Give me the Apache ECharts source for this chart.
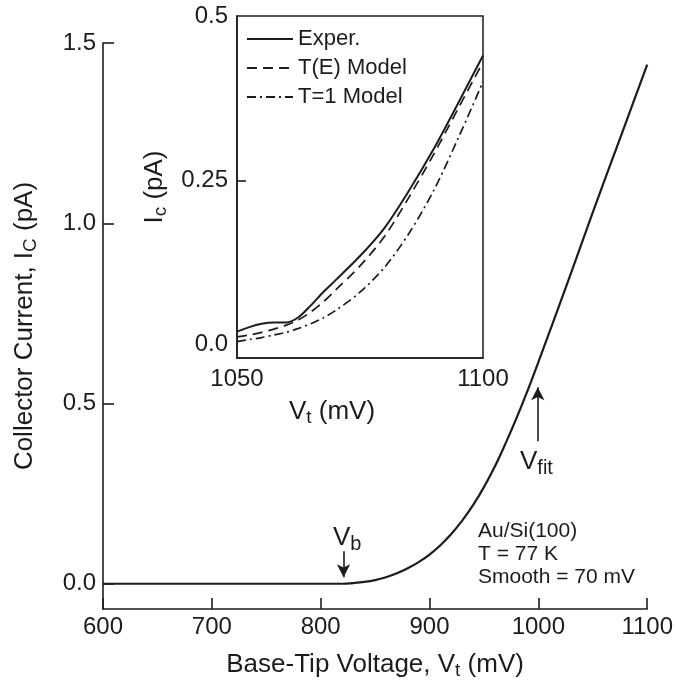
<!DOCTYPE html>
<html>
<head>
<meta charset="utf-8">
<script src="https://cdn.jsdelivr.net/npm/echarts@6/dist/echarts.min.js"></script>
<style>
html,body{margin:0;padding:0;background:#fff;}
#chart{width:676px;height:685px;}
</style>
</head>
<body>
<div id="chart"></div>
<script>
// ---- Data ----
var mainV = [600, 650, 700, 750, 800, 820, 830, 840, 850, 860, 870, 880, 890, 900, 910, 920, 930, 940, 950, 960, 970, 980, 990, 1000, 1025, 1050, 1075, 1100];
var mainI = [0, 0, 0, 0, 0, 0, 0.002, 0.005, 0.010, 0.018, 0.029, 0.043, 0.060, 0.081, 0.107, 0.138, 0.175, 0.218, 0.268, 0.325, 0.39, 0.46, 0.535, 0.615, 0.82, 1.03, 1.235, 1.44];

var insetV = [1050, 1052.5, 1055, 1057.5, 1060, 1062.5, 1065, 1067.5, 1070, 1075, 1080, 1085, 1090, 1095, 1100];
var experI = [0.020, 0.027, 0.032, 0.034, 0.034, 0.042, 0.060, 0.080, 0.098, 0.135, 0.178, 0.235, 0.298, 0.368, 0.44];
var teModelI = [0.012, 0.015, 0.019, 0.024, 0.030, 0.038, 0.050, 0.065, 0.083, 0.120, 0.165, 0.225, 0.29, 0.36, 0.43];
var t1ModelI = [0.005, 0.008, 0.011, 0.015, 0.019, 0.025, 0.032, 0.041, 0.052, 0.080, 0.118, 0.170, 0.235, 0.315, 0.40];

var mainYTicks = [0, 0.5, 1.0, 1.5];
var insetYTicks = [0, 0.25, 0.5];
var seriesNames = ['Exper.', 'T(E) Model', 'T=1 Model'];

function pairs(xs, ys) { return xs.map(function (x, i) { return [x, ys[i]]; }); }

var FONT = '"Liberation Sans", Arial, sans-serif';
var INK = '#1c1c1c';
function subRich(size, pad) {
  return { sub: { fontSize: size, fontFamily: FONT, color: INK, padding: [pad, 0, 0, 0] } };
}

var chart = echarts.init(document.getElementById('chart'));
chart.setOption({
  backgroundColor: '#fff',
  animation: false,
  textStyle: { fontFamily: FONT, color: INK },
  grid: [
    { left: 103, right: 26, top: 43, bottom: 71, containLabel: false },
    { left: 237, right: 193, top: 16, bottom: 327, containLabel: false,
      show: true, borderColor: INK, borderWidth: 1.5, backgroundColor: 'transparent' }
  ],
  legend: {
    data: seriesNames,
    left: 246, top: 28, orient: 'vertical', padding: 0,
    itemWidth: 46, itemHeight: 14, itemGap: 7,
    itemStyle: { opacity: 0 },
    textStyle: { fontSize: 22, fontFamily: FONT, color: INK }
  },
  xAxis: [
    { type: 'value', gridIndex: 0, min: 600, max: 1100, interval: 100,
      axisLine: { onZero: false, lineStyle: { color: INK, width: 1.6 } },
      axisTick: { inside: true, length: 11, lineStyle: { color: INK, width: 1.6 } },
      axisLabel: { fontSize: 24, color: INK, margin: 6, fontFamily: FONT,
        formatter: function (v) { return String(v); } },
      splitLine: { show: false },
      name: 'Base-Tip Voltage, V{sub|t} (mV)', nameLocation: 'middle', nameGap: 40,
      nameTextStyle: { fontSize: 26, color: INK, fontFamily: FONT, rich: subRich(19, 12) }
    },
    { type: 'value', gridIndex: 1, min: 1050, max: 1100, interval: 50,
      axisLine: { onZero: false, lineStyle: { color: INK, width: 1.6 } },
      axisTick: { show: false },
      axisLabel: { fontSize: 24, color: INK, margin: 9, fontFamily: FONT,
        formatter: function (v) { return String(v); } },
      splitLine: { show: false },
      name: 'V{sub|t} (mV)', nameLocation: 'middle', nameGap: 38,
      nameTextStyle: { fontSize: 26, color: INK, fontFamily: FONT, rich: subRich(19, 12), padding: [0, 56, 0, 0] }
    }
  ],
  yAxis: [
    { type: 'value', gridIndex: 0, min: -0.07, max: 1.5,
      axisLine: { onZero: false, lineStyle: { color: INK, width: 1.6 } },
      axisTick: { inside: true, length: 11, customValues: mainYTicks, lineStyle: { color: INK, width: 1.6 } },
      axisLabel: { fontSize: 24, color: INK, margin: 7, fontFamily: FONT, customValues: mainYTicks,
        formatter: function (v) { return v.toFixed(1); } },
      splitLine: { show: false },
      name: 'Collector Current, I{sub|C} (pA)', nameLocation: 'middle', nameGap: 63,
      nameTextStyle: { fontSize: 26, color: INK, fontFamily: FONT, rich: subRich(19, 12) }
    },
    { type: 'value', gridIndex: 1, min: -0.02, max: 0.5,
      axisLine: { onZero: false, lineStyle: { color: INK, width: 1.6 } },
      axisTick: { inside: true, length: 9, customValues: [0.25], lineStyle: { color: INK, width: 1.6 } },
      axisLabel: { fontSize: 24, color: INK, margin: 9, fontFamily: FONT, customValues: insetYTicks,
        formatter: function (v) { return v === 0 ? '0.0' : String(v); } },
      splitLine: { show: false },
      name: 'I{sub|c} (pA)', nameLocation: 'middle', nameGap: 67,
      nameTextStyle: { fontSize: 26, color: INK, fontFamily: FONT, rich: subRich(19, 12) }
    }
  ],
  series: [
    { type: 'line', name: 'main', xAxisIndex: 0, yAxisIndex: 0, data: pairs(mainV, mainI),
      symbol: 'none', smooth: 0.4, lineStyle: { color: INK, width: 2.2 },
      markLine: {
        silent: true, symbol: ['none', 'arrow'], symbolSize: [10, 13],
        lineStyle: { color: INK, width: 1.6, type: 'solid' }, label: { show: false },
        data: [
          [{ coord: [821, 0.09] }, { coord: [821, 0.018] }],
          [{ coord: [999.5, 0.395] }, { coord: [999.5, 0.545] }]
        ]
      }
    },
    { type: 'line', name: seriesNames[0], xAxisIndex: 1, yAxisIndex: 1, data: pairs(insetV, experI),
      symbol: 'none', smooth: 0.3, lineStyle: { color: INK, width: 2, type: 'solid' }, itemStyle: { color: INK } },
    { type: 'line', name: seriesNames[1], xAxisIndex: 1, yAxisIndex: 1, data: pairs(insetV, teModelI),
      symbol: 'none', smooth: 0.3, lineStyle: { color: INK, width: 1.7, type: [10, 6] }, itemStyle: { color: INK } },
    { type: 'line', name: seriesNames[2], xAxisIndex: 1, yAxisIndex: 1, data: pairs(insetV, t1ModelI),
      symbol: 'none', smooth: 0.3, lineStyle: { color: INK, width: 1.7, type: [9, 4, 2, 4] }, itemStyle: { color: INK } }
  ],
  graphic: [
    { type: 'text', left: 333, top: 525, style: { text: 'V{sub|b}', fontSize: 26, fontFamily: FONT, fill: INK,
        rich: { sub: { fontSize: 20, fontFamily: FONT, fill: INK, padding: [12, 0, 0, 0] } } } },
    { type: 'text', left: 520, top: 449, style: { text: 'V{sub|fit}', fontSize: 26, fontFamily: FONT, fill: INK,
        rich: { sub: { fontSize: 20, fontFamily: FONT, fill: INK, padding: [12, 0, 0, 0] } } } },
    { type: 'text', left: 478, top: 520, style: { text: 'Au/Si(100)\nT = 77 K\nSmooth = 70 mV', fontSize: 21,
        lineHeight: 23, fontFamily: FONT, fill: INK } }
  ]
});
</script>
</body>
</html>
